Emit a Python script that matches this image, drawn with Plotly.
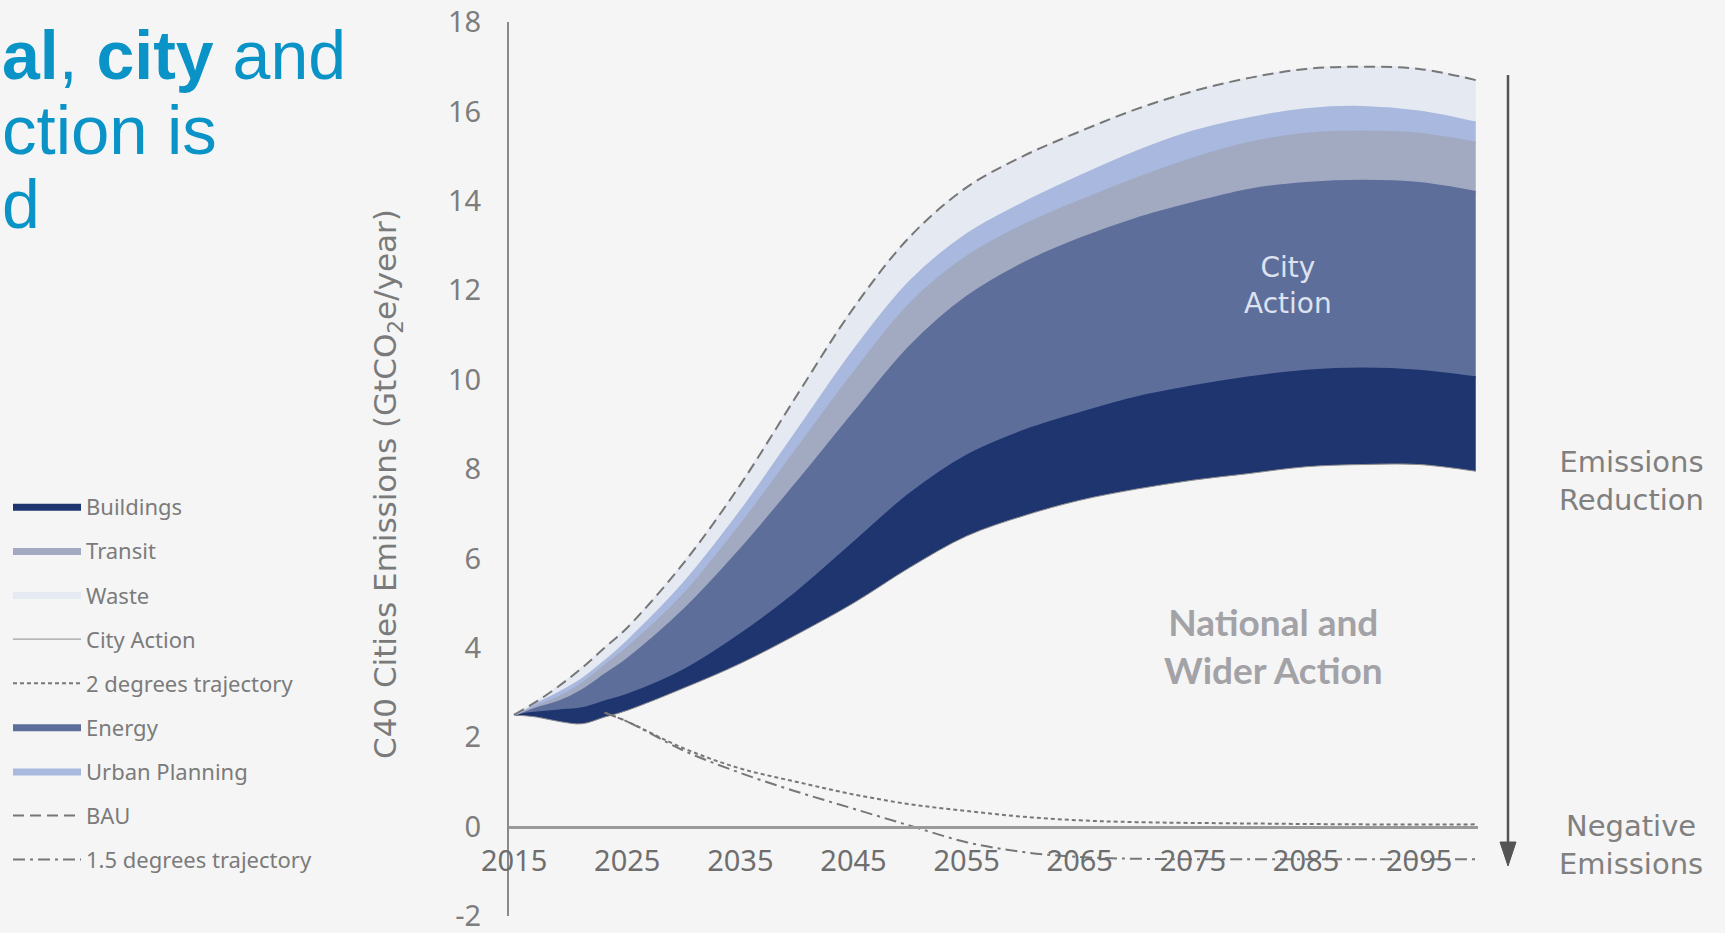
import plotly.graph_objects as go

# ---------------- data ----------------
years = [2015, 2017, 2019, 2021, 2023, 2025, 2030, 2035, 2040, 2045, 2050,
         2055, 2060, 2065, 2070, 2075, 2080, 2085, 2090, 2095, 2100]

city_action = [2.5, 2.45, 2.35, 2.3, 2.45, 2.6, 3.1, 3.65, 4.3, 5.0, 5.8,
               6.5, 6.95, 7.3, 7.55, 7.75, 7.9, 8.05, 8.1, 8.1, 7.95]
buildings_top = [2.5, 2.55, 2.6, 2.65, 2.8, 2.95, 3.5, 4.3, 5.25, 6.35, 7.45,
                 8.3, 8.85, 9.25, 9.6, 9.85, 10.05, 10.2, 10.25, 10.2, 10.05]
energy_top = [2.5, 2.65, 2.8, 3.05, 3.4, 3.75, 4.85, 6.2, 7.7, 9.25, 10.75,
              11.85, 12.6, 13.15, 13.6, 13.95, 14.25, 14.4, 14.45, 14.4, 14.2]
transit_top = [2.5, 2.7, 2.9, 3.2, 3.6, 4.0, 5.2, 6.75, 8.45, 10.15, 11.7,
               12.75, 13.45, 14.0, 14.5, 14.95, 15.3, 15.5, 15.55, 15.5, 15.3]
urban_top = [2.5, 2.75, 3.0, 3.3, 3.7, 4.15, 5.45, 7.05, 8.85, 10.65, 12.2,
             13.25, 13.95, 14.55, 15.1, 15.55, 15.85, 16.05, 16.1, 16.0, 15.75]
bau = [2.5, 2.8, 3.15, 3.55, 4.0, 4.45, 5.9, 7.65, 9.65, 11.6, 13.2,
       14.3, 15.0, 15.55, 16.05, 16.45, 16.75, 16.95, 17.0, 16.95, 16.7]

traj_years = [2023, 2025, 2030, 2035, 2040, 2045, 2050, 2055, 2060, 2065,
              2070, 2080, 2090, 2100]
two_deg = [2.55, 2.35, 1.75, 1.3, 1.0, 0.72, 0.5, 0.35, 0.22, 0.14,
           0.1, 0.07, 0.05, 0.05]
one_five_deg = [2.55, 2.35, 1.7, 1.2, 0.78, 0.4, 0.02, -0.35, -0.57, -0.68,
                -0.72, -0.73, -0.73, -0.73]

x_ticks = [2015, 2025, 2035, 2045, 2055, 2065, 2075, 2085, 2095]
y_ticks = [18, 16, 14, 12, 10, 8, 6, 4, 2, 0, -2]
y_ticktext = ["18", "16", "14", "12", "10", "8", "6", "4", "2", "0", "-2"]

# ---------------- styling ----------------
W, H = 1725, 933
BG = "#F5F5F5"
FONT = "Noto Sans"
WIDE = "DejaVu Sans"
GREY = "#7a7a7a"


def fx(p):
    return p / W


def fy(p):
    return 1 - p / H


fig = go.Figure()

fig.add_trace(go.Scatter(x=years, y=city_action, name="City Action",
                         mode="lines", line=dict(color="#8c8c8c", width=1, shape="spline"),
                         legendrank=4, legendgroup="g4"))
fig.add_trace(go.Scatter(x=years, y=buildings_top, name="Buildings", fill="tonexty",
                         fillcolor="#1E3570", line=dict(color="#1E3570", width=2, shape="spline"),
                         mode="lines", legendrank=1, legendgroup="g1"))
fig.add_trace(go.Scatter(x=years, y=energy_top, name="Energy", fill="tonexty",
                         fillcolor="#5E6E9B", line=dict(color="#5E6E9B", width=2, shape="spline"),
                         mode="lines", legendrank=6, legendgroup="g6"))
fig.add_trace(go.Scatter(x=years, y=transit_top, name="Transit", fill="tonexty",
                         fillcolor="#A2AAC2", line=dict(color="#A2AAC2", width=2, shape="spline"),
                         mode="lines", legendrank=2, legendgroup="g2"))
fig.add_trace(go.Scatter(x=years, y=urban_top, name="Urban Planning", fill="tonexty",
                         fillcolor="#A9B8DE", line=dict(color="#A9B8DE", width=2, shape="spline"),
                         mode="lines", legendrank=7, legendgroup="g7"))
fig.add_trace(go.Scatter(x=years, y=bau, name="Waste", fill="tonexty",
                         fillcolor="#E5E9F1", line=dict(color="#E5E9F1", width=2, shape="spline"),
                         mode="lines", legendrank=3, legendgroup="g3"))
fig.add_trace(go.Scatter(x=years, y=bau, name="BAU", mode="lines",
                         line=dict(color="#777777", width=2, dash="11px,6px", shape="spline"),
                         legendrank=8, legendgroup="g8"))
fig.add_trace(go.Scatter(x=traj_years, y=two_deg, name="2 degrees trajectory", mode="lines",
                         line=dict(color="#777777", width=2, dash="4px,3px", shape="spline"),
                         legendrank=5, legendgroup="g5"))
fig.add_trace(go.Scatter(x=traj_years, y=one_five_deg, name="1.5 degrees trajectory", mode="lines",
                         line=dict(color="#777777", width=2, dash="12px,5px,3px,5px", shape="spline"),
                         legendrank=9, legendgroup="g9"))

y_dom = [fy(916), fy(22)]
x_dom = [fx(509), fx(1478)]
zero_pos = y_dom[0] + (0 - (-2)) / 20 * (y_dom[1] - y_dom[0])

fig.update_layout(
    width=W, height=H,
    margin=dict(l=0, r=0, t=0, b=0, autoexpand=False),
    paper_bgcolor=BG, plot_bgcolor=BG,
    font=dict(family=FONT, color=GREY),
    showlegend=True,
    legend=dict(x=fx(8), y=fy(486), xanchor="left", yanchor="top",
                font=dict(family=FONT, size=22, color="#7b7b7b"),
                itemwidth=68, tracegroupgap=12.5, traceorder="grouped",
                bgcolor="rgba(0,0,0,0)", borderwidth=0),
    xaxis=dict(domain=x_dom, range=[2014.55, 2100.2], anchor="free", position=zero_pos,
               showline=True, linecolor="#9a9a9a", linewidth=2.5,
               showgrid=False, zeroline=False, ticks="",
               tickvals=x_ticks, ticklabelstandoff=8, ticklabeloverflow="allow",
               tickfont=dict(family=FONT, size=29, color="#6e6e6e")),
    yaxis=dict(domain=y_dom, range=[-2, 18], anchor="x",
               showline=True, linecolor="#8a8a8a", linewidth=2,
               showgrid=False, zeroline=False, ticks="",
               tickvals=y_ticks, ticktext=y_ticktext, ticklabelstandoff=20,
               ticklabeloverflow="allow",
               tickfont=dict(family=FONT, size=29, color="#7d7d7d")),
)

ann = []
# heading fragment (top-left)
blue = "#0A93C6"
ann.append(dict(x=0, y=fy(55), xref="paper", yref="paper", xanchor="left", yanchor="middle",
                text="<b>al</b>, <b>city</b> and", showarrow=False,
                font=dict(family="Liberation Sans", size=68, color=blue)))
ann.append(dict(x=0, y=fy(130), xref="paper", yref="paper", xanchor="left", yanchor="middle",
                text="ction is", showarrow=False,
                font=dict(family="Liberation Sans", size=69, color=blue)))
ann.append(dict(x=0, y=fy(204), xref="paper", yref="paper", xanchor="left", yanchor="middle",
                text="d", showarrow=False,
                font=dict(family="Liberation Sans", size=68, color=blue)))
# y-axis title
ann.append(dict(x=fx(387), y=fy(484), xref="paper", yref="paper", xanchor="center", yanchor="middle",
                text="C40 Cities Emissions (GtCO<sub>2</sub>e/year)", textangle=-90, showarrow=False,
                font=dict(family=WIDE, size=31, color="#7a7a7a")))
# in-chart labels
ann.append(dict(x=fx(1288), y=fy(285), xref="paper", yref="paper", xanchor="center", yanchor="middle",
                text="City<br>Action", showarrow=False,
                font=dict(family=WIDE, size=28, color="#DCE2EF")))
ann.append(dict(x=fx(1273), y=fy(645), xref="paper", yref="paper", xanchor="center", yanchor="middle",
                text="<b>National and<br>Wider Action</b>", showarrow=False,
                font=dict(family="Lato", size=37, color="#A2A2A7")))
ann.append(dict(x=fx(1631), y=fy(481), xref="paper", yref="paper", xanchor="center", yanchor="middle",
                text="Emissions<br>Reduction", showarrow=False,
                font=dict(family=WIDE, size=29, color="#808080")))
ann.append(dict(x=fx(1631), y=fy(845), xref="paper", yref="paper", xanchor="center", yanchor="middle",
                text="Negative<br>Emissions", showarrow=False,
                font=dict(family=WIDE, size=29, color="#808080")))
fig.update_layout(annotations=ann)

# downward arrow (shaft + head)
fig.add_shape(type="line", xref="paper", yref="paper",
              x0=fx(1508), x1=fx(1508), y0=fy(75), y1=fy(846),
              line=dict(color="#555555", width=2.5))
fig.add_shape(type="path", xref="paper", yref="paper",
              path=f"M {fx(1500)} {fy(842)} L {fx(1516)} {fy(842)} L {fx(1508)} {fy(866)} Z",
              fillcolor="#555555", line=dict(color="#555555", width=1))

fig.write_html(
    "out.html",
    config={"displayModeBar": False},
    post_script="document.body.style.margin='0';"
                "document.body.style.background='#F5F5F5';"
                "document.documentElement.style.background='#F5F5F5';",
)
